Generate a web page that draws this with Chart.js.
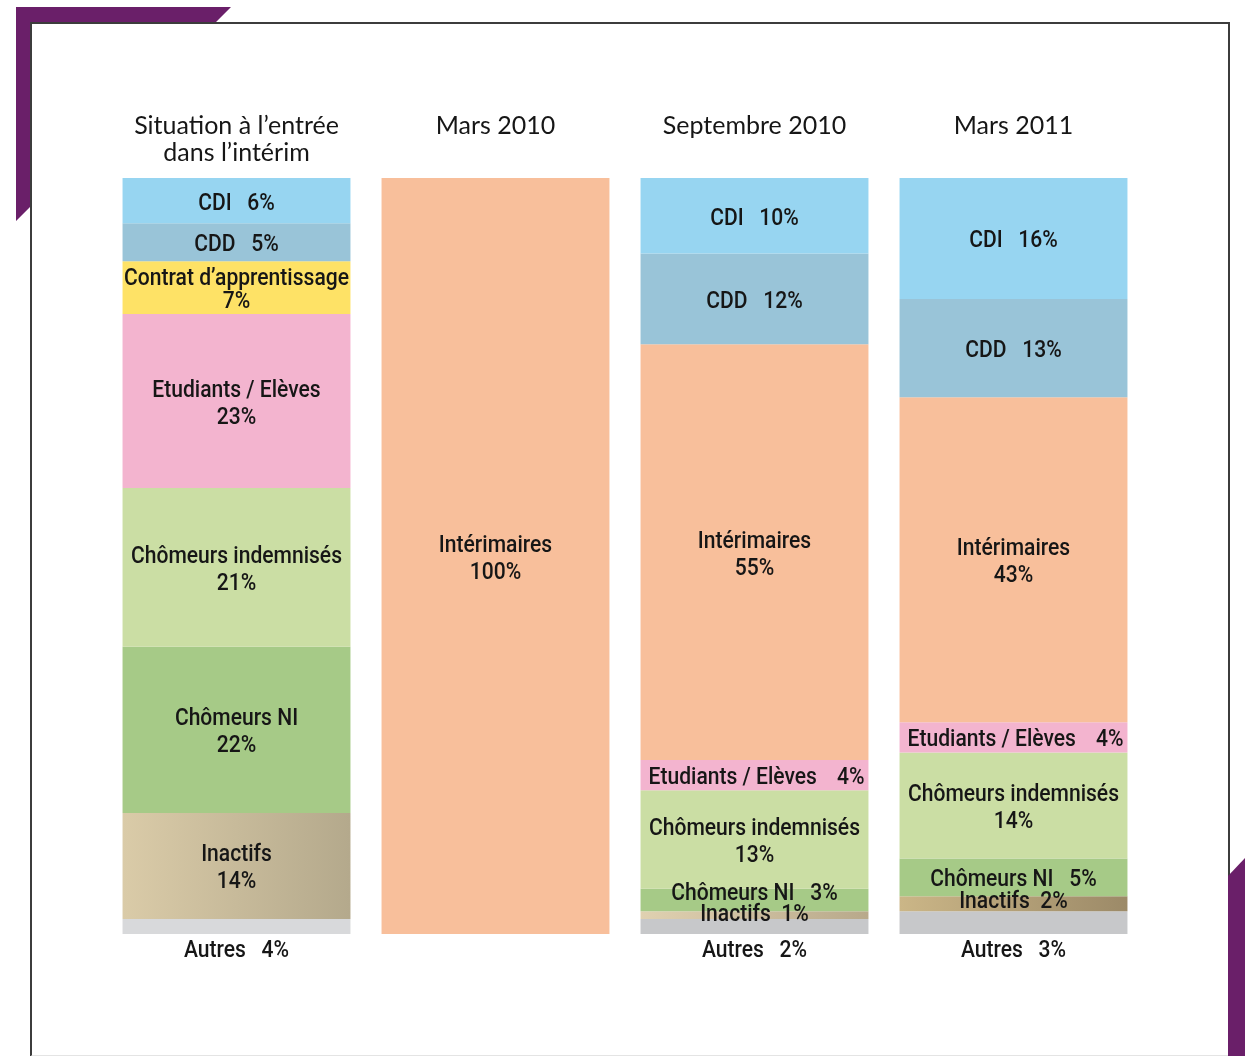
<!DOCTYPE html>
<html lang="fr">
<head>
<meta charset="utf-8">
<title>Situation à l’entrée dans l’intérim</title>
<script src="https://cdn.jsdelivr.net/npm/chart.js@4/dist/chart.umd.min.js"></script>
<style>
  html, body { margin: 0; padding: 0; background: #fff; }
  .page { position: relative; width: 1252px; height: 1056px; overflow: hidden; }
  .corner-tl, .corner-br { position: absolute; background: #6a1f69; }
  .corner-tl { left: 0; top: 0; width: 240px; height: 230px;
    clip-path: polygon(16px 7px, 231px 7px, 216px 22px, 30px 22px, 30px 207px, 16px 221px); }
  .corner-br { left: 1220px; top: 850px; width: 32px; height: 206px;
    clip-path: polygon(8px 26px, 25px 8px, 25px 206px, 8px 206px); }
  .frame { position: absolute; left: 30px; top: 22px; width: 1196px; height: 1031px;
    border: 2px solid #3c3c3c; border-bottom-color: #e4e4e4; }
  .chart-box { position: absolute; left: 0; top: 0; width: 1252px; height: 1056px; }
</style>
</head>
<body>
<div class="page">
  <div class="frame"></div>
  <div class="corner-tl"></div>
  <div class="corner-br"></div>
  <div class="chart-box"><canvas id="stackChart"></canvas></div>
</div>
<script>
// ===== データ =====
const COLUMNS = [
  ['Situation à l’entrée', 'dans l’intérim'],
  ['Mars 2010'],
  ['Septembre 2010'],
  ['Mars 2011']
];

// top -> bottom of each column
const CDI            = [6,    null, 10, 16];
const CDD            = [5,    null, 12, 13];
const APPRENTISSAGE  = [7,    null, null, null];
const INTERIMAIRES   = [null, 100,  55, 43];
const ETUDIANTS      = [23,   null, 4,  4];
const CHOMEURS_INDEM = [21,   null, 13, 14];
const CHOMEURS_NI    = [22,   null, 3,  5];
const INACTIFS       = [14,   null, 1,  2];
const AUTRES         = [4,    null, 2,  3];

const SERIES = [
  { name: 'CDI',                     values: CDI,            color: '#97d5f1' },
  { name: 'CDD',                     values: CDD,            color: '#99c4d8' },
  { name: 'Contrat d’apprentissage', values: APPRENTISSAGE,  color: '#fee266' },
  { name: 'Intérimaires',            values: INTERIMAIRES,   color: '#f8bf9b' },
  { name: 'Etudiants / Elèves',      values: ETUDIANTS,      color: '#f3b4cf' },
  { name: 'Chômeurs indemnisés',     values: CHOMEURS_INDEM, color: '#cbdea4' },
  { name: 'Chômeurs NI',             values: CHOMEURS_NI,    color: '#a6ca87' },
  { name: 'Inactifs',                values: INACTIFS,       color: '#c8b995' },
  { name: 'Autres',                  values: AUTRES,         color: ['#d8d9db', '#c8c9cb', '#c7c8ca', '#c7c8ca'] }
];

// Inactifs : dégradé horizontal par colonne
const INACTIFS_GRAD = [
  ['#dacba8', '#b4a98c'],
  ['#dacba8', '#b4a98c'],
  ['#e0d1b1', '#b8a98b'],
  ['#cbb687', '#9c8a68']
];

const LABEL_FONT = '500 24px Roboto, "DejaVu Sans", sans-serif';
const TITLE_FONT = '25px Lato, "Noto Sans", sans-serif';
const BAR_FRAC = 0.88;

function inactifsColor(ctx) {
  const chart = ctx.chart;
  if (ctx.type !== 'data' || !chart.chartArea) return '#c8b995';
  const xs = chart.scales.x;
  const cx = xs.getPixelForValue(ctx.dataIndex);
  const w = chart.chartArea.width / COLUMNS.length * BAR_FRAC;
  const g = chart.ctx.createLinearGradient(cx - w / 2, 0, cx + w / 2, 0);
  const [a, b] = INACTIFS_GRAD[ctx.dataIndex];
  g.addColorStop(0, a);
  g.addColorStop(1, b);
  return g;
}

// condensed text: squeeze horizontally
let squeeze = 0.86;
function narrowText(ctx, text, x, y, align) {
  const w = ctx.measureText(text).width * squeeze;
  let left = x;
  if (align === 'center') left = x - w / 2;
  else if (align === 'right') left = x - w;
  ctx.save();
  ctx.translate(left, y);
  ctx.scale(squeeze, 1);
  ctx.textAlign = 'left';
  ctx.fillText(text, 0, 0);
  ctx.restore();
}

// ===== ラベル描画 =====
const segmentLabels = {
  id: 'segmentLabels',
  afterDatasetsDraw(chart) {
    const { ctx, chartArea } = chart;
    ctx.save();
    ctx.fillStyle = '#161616';
    ctx.textBaseline = 'middle';

    // column titles
    ctx.font = TITLE_FONT;
    ctx.textAlign = 'center';
    COLUMNS.forEach((lines, i) => {
      const x = chart.scales.x.getPixelForValue(i);
      lines.forEach((t, j) => ctx.fillText(t, x, 126 + j * 27));
    });

    ctx.font = LABEL_FONT;
    squeeze = 211 / ctx.measureText('Chômeurs indemnisés').width;
    const n = COLUMNS.length;
    for (let col = 0; col < n; col++) {
      const segs = [];
      chart.data.datasets.forEach((ds, di) => {
        const v = ds.data[col];
        if (v == null) return;
        const el = chart.getDatasetMeta(di).data[col];
        const top = Math.max(Math.min(el.y, el.base), chartArea.top);
        const bottom = Math.min(Math.max(el.y, el.base), chartArea.bottom);
        segs.push({ name: ds.label, v, el, top, bottom, h: bottom - top });
      });
      segs.forEach((s, k) => {
        const cx = s.el.x;
        const left = cx - s.el.width / 2, right = cx + s.el.width / 2;
        const val = s.v + '%';
        let cy = (s.top + s.bottom) / 2 + 3;
        if (s.name === 'Autres') {
          narrowText(ctx, s.name + '   ' + val, cx, chartArea.bottom + 17, 'center');
          return;
        }
        if (s.name === 'CDI' || s.name === 'CDD') {
          narrowText(ctx, s.name + '   ' + val, cx, cy, 'center');
          return;
        }
        if (s.h >= 45) {
          const gap = s.h > 80 ? 27 : 23;
          narrowText(ctx, s.name, cx, cy - gap / 2, 'center');
          narrowText(ctx, val, cx, cy + gap / 2, 'center');
          return;
        }
        const next = segs[k + 1];
        if (s.h < 12) cy = s.top + 4;
        else if (next && next.name !== 'Autres' && next.h < 12) cy -= 9;
        else if (s.h < 20) cy -= 5;
        if (s.name === 'Etudiants / Elèves') {
          narrowText(ctx, s.name, left + 8, cy, 'left');
          narrowText(ctx, val, right - 4, cy, 'right');
          return;
        }
        narrowText(ctx, s.name + (s.h < 20 ? '  ' : '   ') + val, cx, cy, 'center');
      });
    }
    ctx.restore();
  }
};

// ===== チャート =====
function initChart() {
  const el = document.getElementById('stackChart');
  new Chart(el, {
    type: 'bar',
    data: {
      labels: COLUMNS.map(c => c.join(' ')),
      datasets: SERIES.map(s => ({
        label: s.name,
        data: s.values,
        backgroundColor: s.name === 'Inactifs' ? inactifsColor : s.color,
        borderWidth: 0,
        categoryPercentage: BAR_FRAC,
        barPercentage: 1.0
      }))
    },
    options: {
      responsive: true,
      maintainAspectRatio: false,
      animation: false,
      layout: { padding: { left: 107, right: 109, top: 178, bottom: 122 } },
      plugins: { legend: { display: false }, tooltip: { enabled: false } },
      scales: {
        x: { stacked: true, display: false },
        y: { stacked: true, display: false, reverse: true, min: 0, max: 100 }
      }
    },
    plugins: [segmentLabels]
  });
}

document.addEventListener('DOMContentLoaded', initChart);
</script>
</body>
</html>
